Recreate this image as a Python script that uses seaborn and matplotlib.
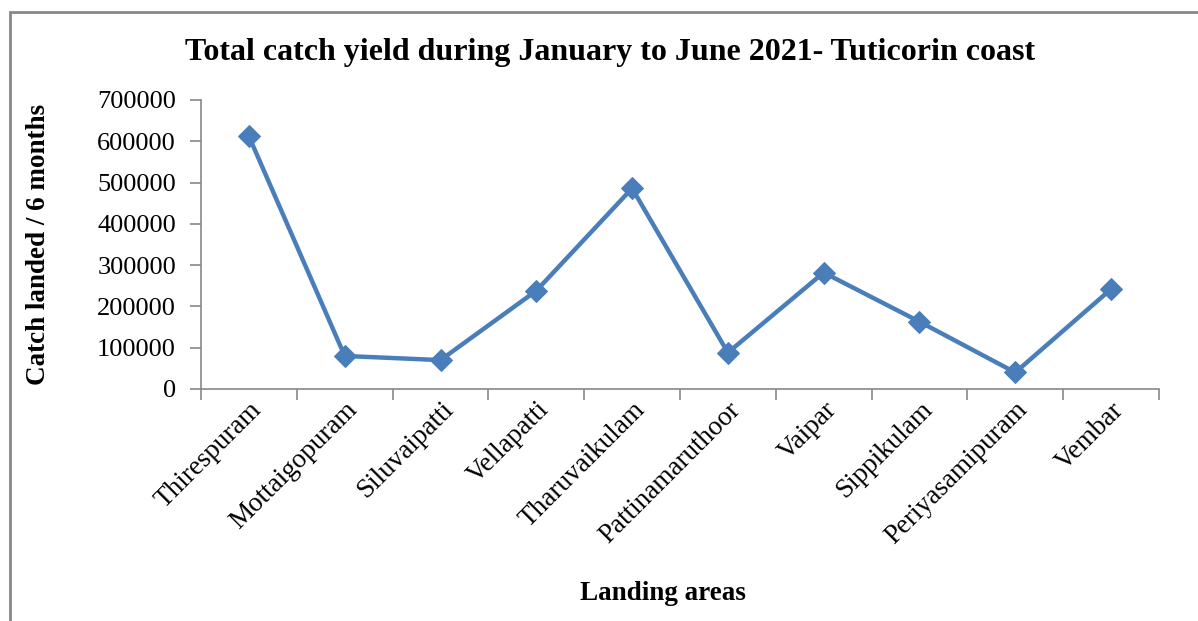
import matplotlib
matplotlib.use("Agg")
import matplotlib.pyplot as plt
import seaborn as sns
import pandas as pd
import numpy as np
from matplotlib.patches import Rectangle
from matplotlib.ticker import FixedLocator

areas = ["Thirespuram", "Mottaigopuram", "Siluvaipatti", "Vellapatti", "Tharuvaikulam",
         "Pattinamaruthoor", "Vaipar", "Sippikulam", "Periyasamipuram", "Vembar"]
catch = [612000, 80000, 70000, 238000, 486000, 88000, 282000, 163000, 40000, 242000]
yticks = [0, 100000, 200000, 300000, 400000, 500000, 600000, 700000]

title = "Total catch yield during January to June 2021- Tuticorin coast"
xlabel = "Landing areas"
ylabel = "Catch landed / 6 months"

sns.set_style("white")
plt.rcParams['font.family'] = ['Liberation Serif', 'DejaVu Serif']
plt.rcParams['text.color'] = 'black'
plt.rcParams['axes.labelcolor'] = 'black'
plt.rcParams['xtick.color'] = 'black'
plt.rcParams['ytick.color'] = 'black'

df = pd.DataFrame({"area": areas, "catch": catch})

fig = plt.figure(figsize=(11.98, 6.21), dpi=100)
ax = fig.add_axes([0.1678, 0.3736, 0.7996, 0.4654])

sns.lineplot(data=df, x="area", y="catch", ax=ax, color="#4A7EBB", linewidth=3.2,
             marker="D", markersize=11, markeredgecolor="#4A7EBB", sort=False)

ax.set_xlim(-0.5, len(areas) - 0.5)
ax.set_ylim(0, 700000)
ax.set_yticks(yticks)
ax.set_yticklabels([str(v) for v in yticks], fontsize=19)
ax.set_xticks(range(len(areas)))
ax.set_xticklabels(areas, rotation=45, ha="right", va="top", rotation_mode="anchor", fontsize=19.5)
ax.xaxis.set_minor_locator(FixedLocator(np.arange(-0.5, len(areas), 1.0)))
ax.tick_params(axis="x", which="major", length=0, pad=6)
ax.tick_params(axis="x", which="minor", length=8, color="#888888", width=1.2, direction="out", bottom=True)
ax.tick_params(axis="y", which="major", length=8, color="#888888", width=1.2, direction="out", left=True,
               pad=10, labelcolor="black")

for s in ["top", "right"]:
    ax.spines[s].set_visible(False)
for s in ["left", "bottom"]:
    ax.spines[s].set_color("#888888")
    ax.spines[s].set_linewidth(1.2)

ax.set_xlabel(xlabel, fontsize=19.5, fontweight="bold")
ax.xaxis.set_label_coords(0.482, -0.706)
ax.xaxis.label.set_va("center")
ax.set_ylabel(ylabel, fontsize=19.5, fontweight="bold")
ax.yaxis.set_label_coords(-0.170, 0.5)
ax.yaxis.label.set_va("center")
fig.text(0.509, 0.915, title, fontsize=23, fontweight="bold", ha="center", va="center")

fig.patches.append(Rectangle((10 / 1198, -0.1), 1.2, 1.1 - 12 / 621, transform=fig.transFigure,
                             fill=False, edgecolor="#888888", linewidth=2))

fig.savefig("out.png", dpi=100)
